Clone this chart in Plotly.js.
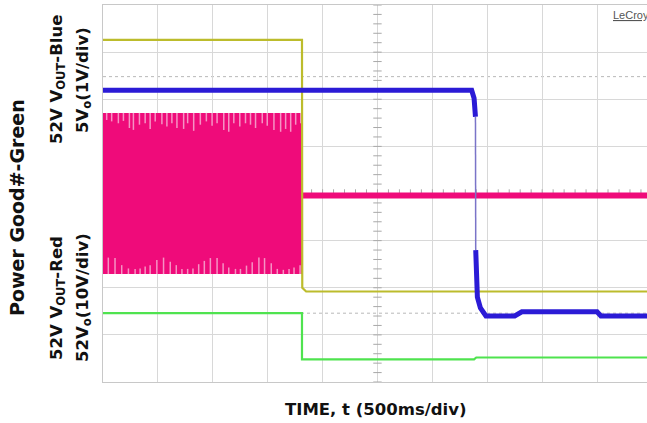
<!DOCTYPE html>
<html><head><meta charset="utf-8">
<script src="https://cdn.plot.ly/plotly-3.0.1.min.js"></script>
<style>html,body{margin:0;padding:0;background:#fff;overflow:hidden}</style>
</head><body><div id="chart" style="width:647px;height:423px"></div>
<script>
// ---- data (time in divisions of 500 ms, level in screen divisions) ----
const yellowT = [0, 3.625, 3.63, 3.70, 10];
const yellowV = [7.26, 7.26, 2.00, 1.92, 1.92];

const greenT = [0, 3.625, 3.625, 6.76, 6.80, 10];
const greenV = [1.46, 1.46, 0.48, 0.48, 0.52, 0.52];

const blueT = [0, 6.716, 6.76, 6.785, 6.79, 6.797, 6.82, 6.875, 6.976, 7.50, 7.63, 9.00, 9.07, 10];
const blueV = [6.19, 6.19, 6.02, 5.63, 2.80, 2.17, 1.80, 1.57, 1.40, 1.40, 1.49, 1.49, 1.40, 1.40];

const magBandT = [0, 3.625];
const magBandTop = [5.71, 5.71];
const magBandBot = [2.29, 2.29];
const magLowT = [3.625, 10];
const magLowV = [3.96, 3.96];

const topSpikeT = [0.067,0.158,0.280,0.372,0.481,0.554,0.664,0.768,0.859,0.951,1.073,1.164,1.255,1.347,1.469,1.542,1.652,1.773,1.883,1.987,2.078,2.200,2.291,2.383,2.492,2.596,2.687,2.779,2.901,2.992,3.114,3.236,3.327,3.419,3.510,3.602];
const topSpikeTip = [5.56,5.53,5.49,5.54,5.39,5.35,5.46,5.49,5.37,5.53,5.47,5.42,5.49,5.39,5.37,5.49,5.33,5.46,5.53,5.44,5.49,5.35,5.31,5.49,5.42,5.49,5.46,5.39,5.49,5.44,5.35,5.31,5.37,5.31,5.46,5.49];
const botSpikeT = [0.097,0.219,0.341,0.463,0.585,0.676,0.768,0.859,0.981,1.103,1.225,1.335,1.438,1.542,1.639,1.743,1.846,1.956,2.078,2.188,2.291,2.413,2.504,2.614,2.718,2.840,2.943,3.065,3.175,3.285,3.389,3.480,3.590];
const botSpikeTip = [2.64,2.63,2.48,2.41,2.40,2.41,2.45,2.48,2.59,2.64,2.55,2.48,2.40,2.40,2.41,2.50,2.57,2.63,2.63,2.52,2.43,2.40,2.40,2.47,2.54,2.64,2.63,2.52,2.40,2.38,2.40,2.43,2.48];

const refLevels = [6.48, 1.46];

const xTitle = '<b>TIME, t (500ms/div)</b>';
const yLabels = ['<b>Power Good#-Green</b>', '<b>52V V<sub>OUT</sub>-Blue</b>', '<b>5V<sub>o</sub>(1V/div)</b>', '<b>52V V<sub>OUT</sub>-Red</b>', '<b>52V<sub>o</sub>(10V/div)</b>'];
const brand = 'LeCroy';

// ---- styles ----
const C = {yellow:'#bcbc2c', green:'#4fe34f', blue:'#2b1bd6', blueEdge:'#7a74c8', mag:'#ef0b7a', magSpike:'#f593c4'};
const FONT = 'DejaVu Sans, sans-serif';

function segs(xs, base, tips) {
  const x = [], y = [];
  xs.forEach((t, i) => { x.push(t, t, null); y.push(base, tips[i], null); });
  return {x, y};
}
const ts = segs(topSpikeT, magBandTop[0], topSpikeTip);
const bs = segs(botSpikeT, magBandBot[0], botSpikeTip);

// center graticule ticks
const ctX = [], ctY = [], chX = [], chY = [];
for (let i = 0; i <= 40; i++) { ctX.push(5); ctY.push(i * 0.2); }
for (let i = 0; i <= 50; i++) { chX.push(i * 0.2); chY.push(4); }

const traces = [
  {x: ctX, y: ctY, mode:'markers', marker:{symbol:'line-ew', size:6, line:{width:1, color:'#a8a8a8'}}},
  {x: chX, y: chY, mode:'markers', marker:{symbol:'line-ns', size:6, line:{width:1, color:'#a8a8a8'}}},
  {x: magBandT, y: magBandBot, mode:'lines', line:{width:0, color:C.mag}},
  {x: magBandT, y: magBandTop, mode:'lines', line:{width:0, color:C.mag}, fill:'tonexty', fillcolor:C.mag},
  {x: ts.x, y: ts.y, mode:'lines', line:{width:1.5, color:C.magSpike}, connectgaps:false},
  {x: bs.x, y: bs.y, mode:'lines', line:{width:1.5, color:C.magSpike}, connectgaps:false},
  {x: magLowT, y: magLowV, mode:'lines', line:{width:6, color:C.mag}},
  {x: yellowT, y: yellowV, mode:'lines', line:{width:2.2, color:C.yellow}},
  {x: greenT, y: greenV, mode:'lines', line:{width:2.2, color:C.green}},
  {x: blueT.slice(3,5), y: blueV.slice(3,5), mode:'lines', line:{width:1.5, color:C.blueEdge}},
  {x: blueT.slice(0,4), y: blueV.slice(0,4), mode:'lines', line:{width:5, color:C.blue, shape:'linear'}},
  {x: blueT.slice(4), y: blueV.slice(4), mode:'lines', line:{width:5, color:C.blue}}
];

const shapes = refLevels.map(v => ({type:'line', xref:'paper', x0:0, x1:1, yref:'y', y0:v, y1:v, line:{color:'#b8b8b8', width:1, dash:'dot'}, layer:'below'}));

const px = p => (p - 103) / 544;
const py = p => (382 - p) / 377;
const lblPos = [[17, 208], [57, 80], [83, 80], [57, 298], [83, 298]];
const lblSize = [19, 16.5, 16.5, 16.5, 16.5];
const annotations = yLabels.map((t, i) => ({
  text: t, textangle: -90, xref:'paper', yref:'paper', x: px(lblPos[i][0]), y: py(lblPos[i][1]),
  xanchor:'center', yanchor:'middle', showarrow:false, font:{family:FONT, size:lblSize[i], color:'#111'}
}));
annotations.push({text: xTitle, xref:'paper', yref:'paper', x: px(376), y: py(409), xanchor:'center', yanchor:'middle', showarrow:false, font:{family:FONT, size:16.5, color:'#111'}});
annotations.push({text: '<u>' + brand + '</u>', xref:'paper', yref:'paper', x: px(611), y: py(15), xanchor:'left', yanchor:'middle', showarrow:false, font:{family:'Liberation Sans, Arial, sans-serif', size:11, color:'#555'}});

const axisBase = {showgrid:true, gridcolor:'#d8d8d8', gridwidth:1, dtick:1, tick0:0, showticklabels:false, ticks:'', zeroline:false, showline:true, linecolor:'#c8c8c8', linewidth:1, mirror:true, fixedrange:true};
const layout = {
  width:647, height:423, margin:{l:103, r:0, t:5, b:41},
  paper_bgcolor:'#ffffff', plot_bgcolor:'#ffffff', showlegend:false, hovermode:false,
  xaxis: Object.assign({}, axisBase, {range:[0, 9.91]}),
  yaxis: Object.assign({}, axisBase, {range:[0, 8]}),
  shapes, annotations
};
Plotly.newPlot('chart', traces, layout, {staticPlot:true, displayModeBar:false});
</script></body></html>
